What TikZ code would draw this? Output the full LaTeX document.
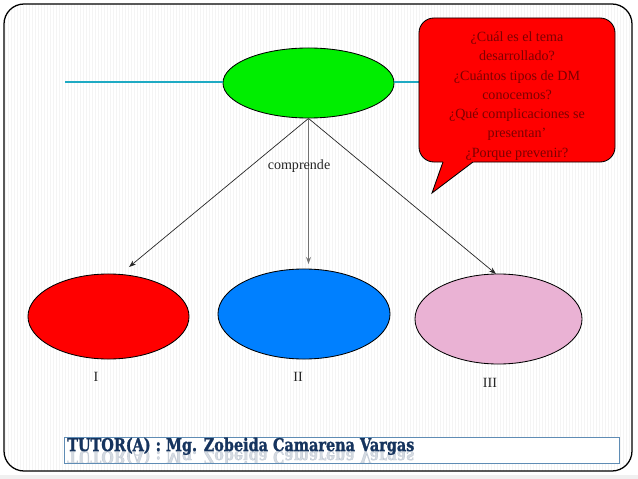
\documentclass[tikz,border=0pt]{standalone}
\usepackage{fontspec}
\setmainfont{Liberation Serif}
\newfontfamily\tutorfont[FakeStretch=0.82, FakeBold=1.3]{DejaVu Serif}
\usetikzlibrary{shapes.geometric,arrows.meta}
\definecolor{leafgreen}{RGB}{0,238,0}
\definecolor{skyblue}{RGB}{0,128,255}
\definecolor{softpink}{RGB}{234,178,212}
\definecolor{tealline}{RGB}{30,170,195}
\definecolor{darkwine}{RGB}{125,0,0}
\definecolor{navyink}{RGB}{22,52,94}
\definecolor{steelframe}{RGB}{95,140,180}
\tikzset{
	stripe/.style={line width=0.3pt, color=gray!9},
	topic/.style={ellipse, draw=black, line width=0.6pt, inner sep=0pt},
	branch/.style={-{Stealth[length=5pt,width=3.5pt]}, line width=0.5pt, color=black!85},
	numeral/.style={font=\fontsize{10}{12}\selectfont, text=black!85},
	askbox/.style={rectangle, rounded corners=0.375cm, draw=black, fill=red, line width=0.6pt, minimum width=4.9cm, minimum height=3.6cm},
	asktext/.style={align=center, text=darkwine, font=\fontsize{10}{13.7}\selectfont},
	tutorname/.style={inner sep=0pt, text=navyink, font=\tutorfont\bfseries\fontsize{12.5}{13}\selectfont},
}

\begin{document}
\begin{tikzpicture}[x=0.025cm, y=-0.025cm]
		%%%%% START %%%%%
		
		\useasboundingbox (0,0) rectangle (638,479);
		\fill[gray!12] (0,475) rectangle (638,479);
		
		\begin{scope}
			\clip[rounded corners=0.5cm] (4,4) rectangle (632,471);
			\foreach \i in {5,8,...,632} \draw[stripe] (\i,4) -- (\i,471);
		\end{scope}
		\draw[line width=0.9pt, rounded corners=0.5cm] (4,4) rectangle (632,471);
		
		\node[topic, fill=leafgreen, minimum width=4.275cm, minimum height=1.75cm] (theme) at (308.5,83) {};
		\coordinate (lineL) at (65,82);
		\draw[line width=0.9pt, color=tealline] (lineL) -- (theme.west |- lineL);
		\draw[line width=0.9pt, color=tealline] (theme.east |- lineL) -- ++(30,0);
		
		\node[askbox] (ask) at (517,90) {};
		\fill[red] (432,193) -- (444,158.5) -- (477.5,158.5) -- cycle;
		\draw[line width=0.6pt] (443,162) -- (432,193) -- (473,162);
		\node[asktext] (questions) at (517,96) {¿Cuál es el tema\\desarrollado?\\¿Cuántos tipos de DM\\conocemos?\\¿Qué complicaciones se\\presentan’\\¿Porque prevenir?};
		
		\node[topic, fill=red, minimum width=4.025cm, minimum height=2.125cm] (typeI) at (108.5,316.5) {};
		\node[topic, fill=skyblue, minimum width=4.3cm, minimum height=2.25cm] (typeII) at (304,314) {};
		\node[topic, fill=softpink, minimum width=4.175cm, minimum height=2.25cm] (typeIII) at (498.5,319) {};
		
		\coordinate (tipI) at (129,267);
		\coordinate (tipII) at (308.5,264);
		\coordinate (tipIII) at (496,274);
		\draw[branch] (theme.south) -- (tipI);
		\draw[branch, line width=0.85pt, color=black!55] (theme.south) -- (tipII);
		\draw[branch] (theme.south) -- (tipIII);
		
		\node[numeral] (verb) at (299,166) {comprende};
		\node[numeral] (labelI) at (96,377) {I};
		\node[numeral] (labelII) at (298,377) {II};
		\node[numeral] (labelIII) at (490,383) {III};
		
		\node[draw=steelframe, fill=white, line width=0.6pt, minimum width=13.875cm, minimum height=0.65cm, inner sep=0pt] (tutor) at (341.5,450) {};
		\node[tutorname, anchor=base west] (tutorline) at (67,451) {TUTOR(A) : Mg. Zobeida Camarena Vargas};
		\begin{scope}
			\clip (64,451.5) rectangle (619,462);
			\node[tutorname, anchor=base west, yscale=-1, transform shape, opacity=0.18] (tutorecho) at (67,451) {TUTOR(A) : Mg. Zobeida Camarena Vargas};
		\end{scope}
		
		%%%%% END %%%%%
	\end{tikzpicture}
\end{document}
